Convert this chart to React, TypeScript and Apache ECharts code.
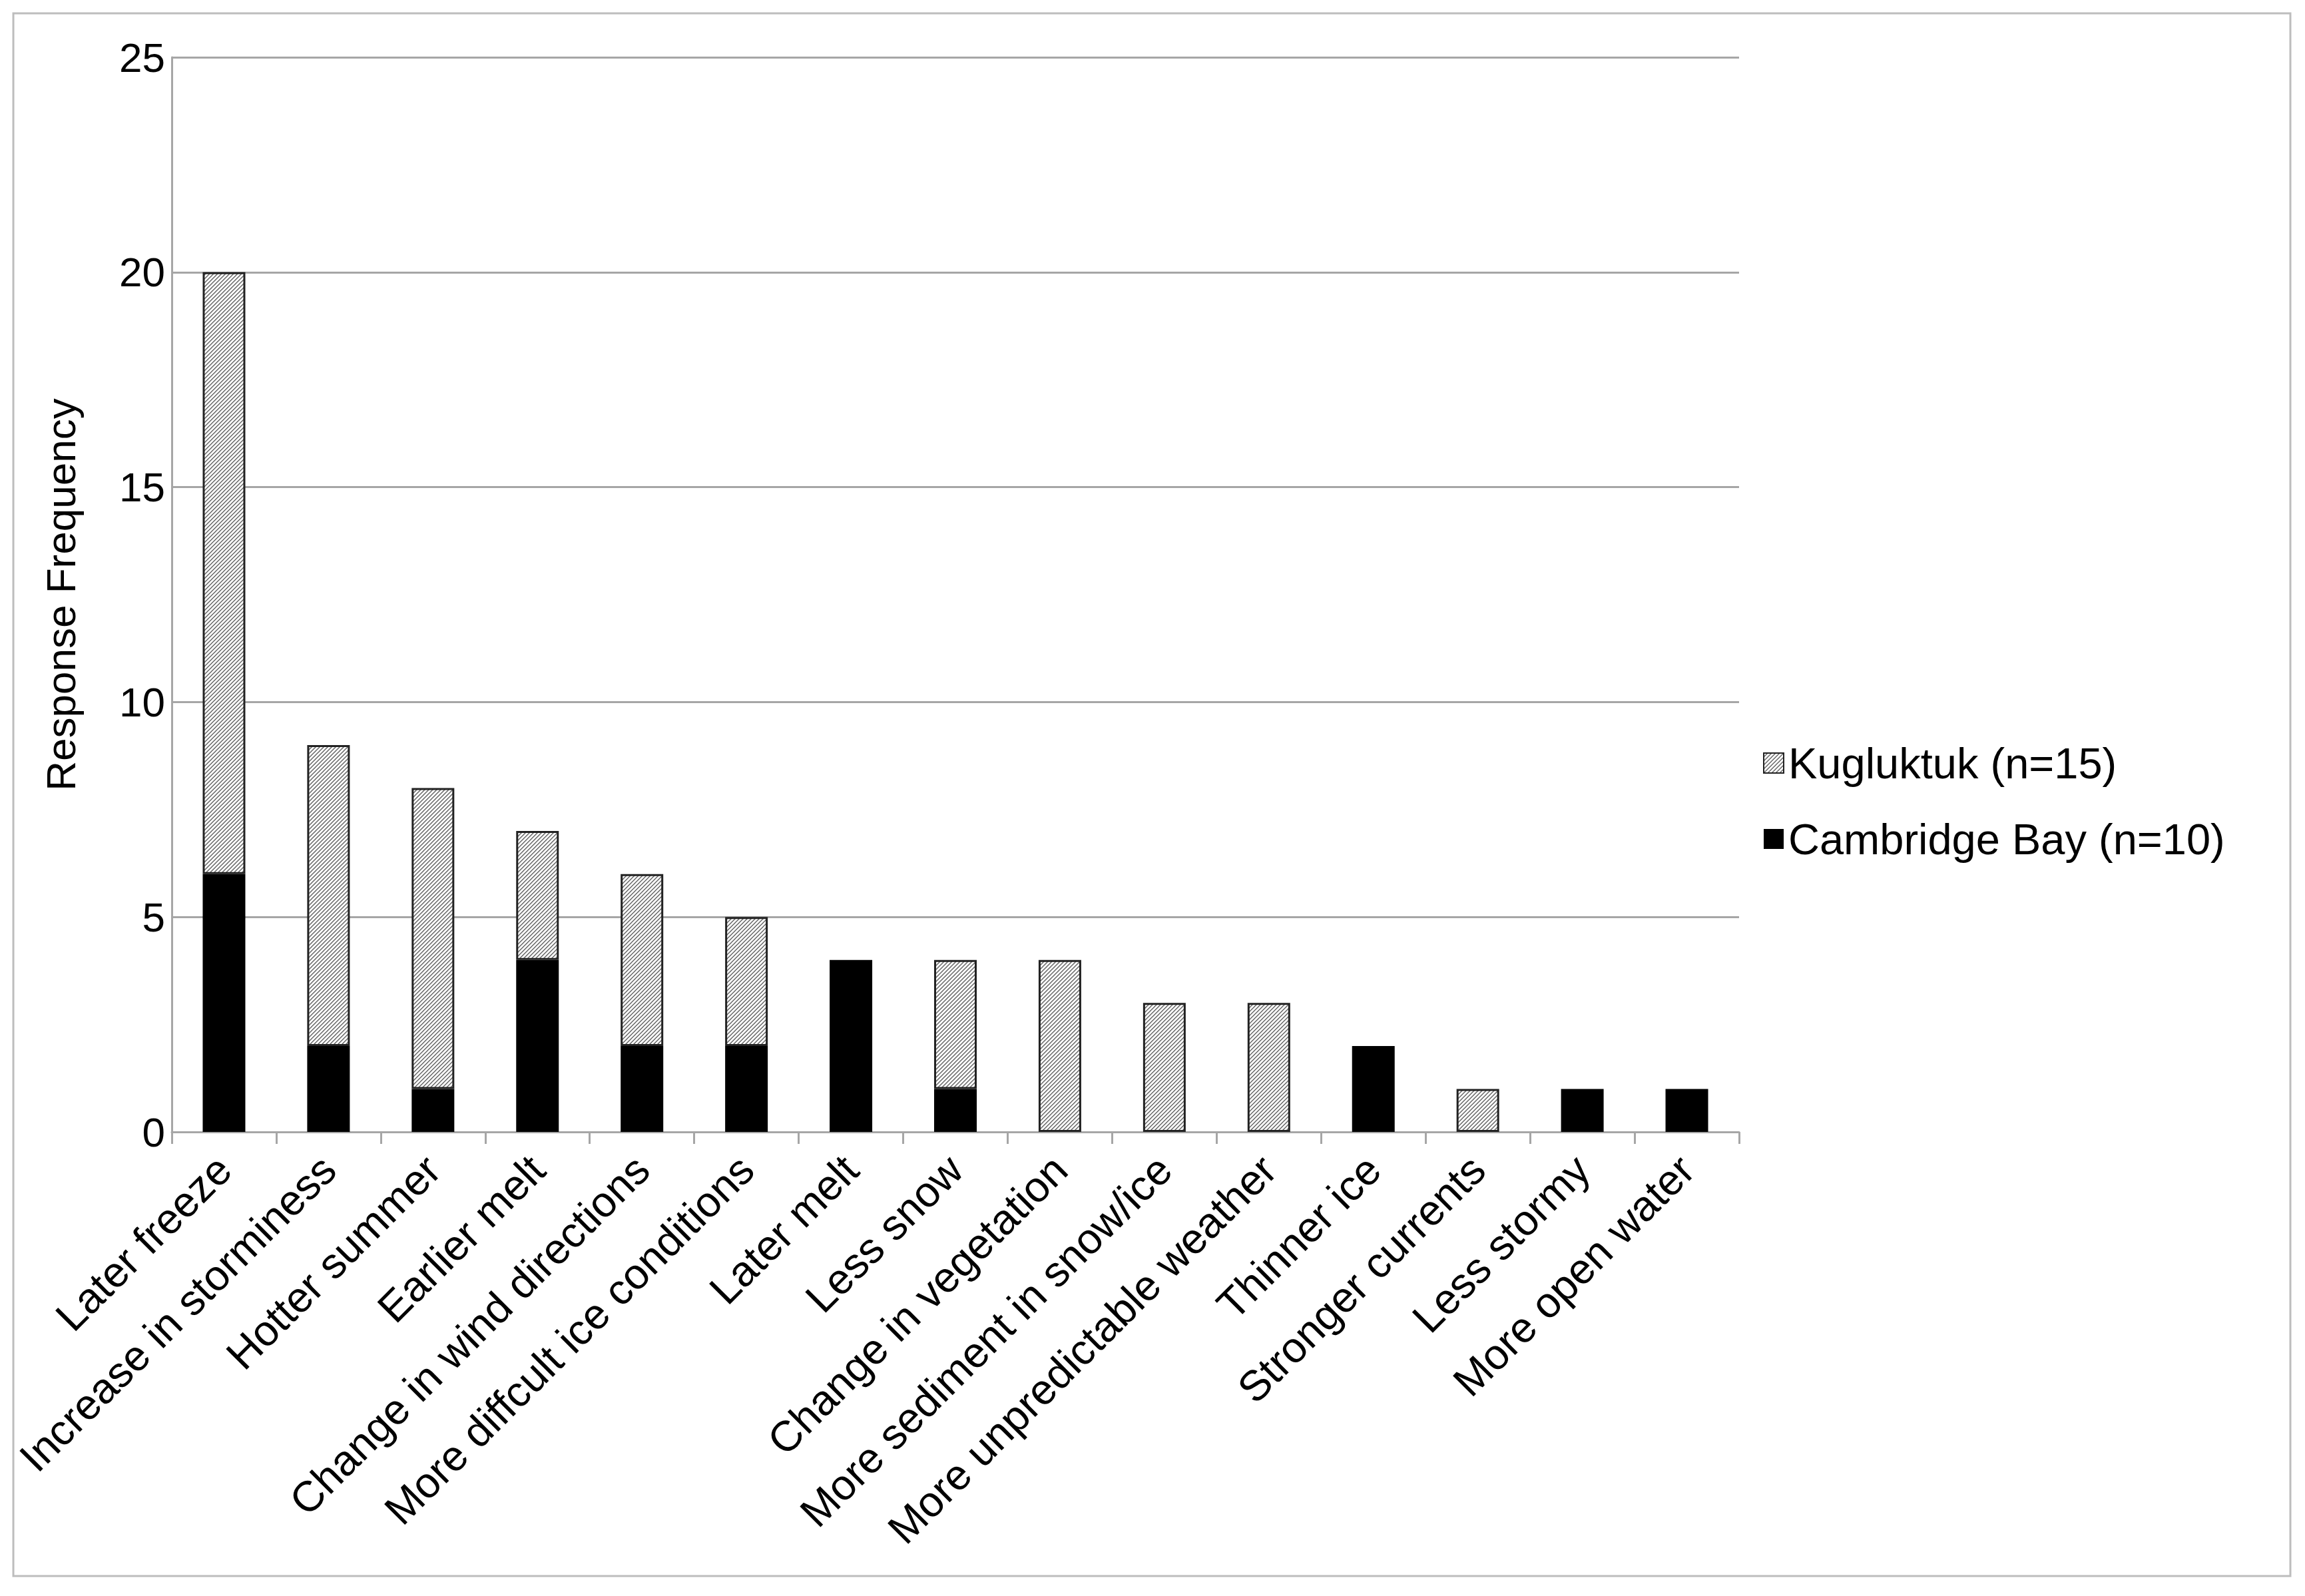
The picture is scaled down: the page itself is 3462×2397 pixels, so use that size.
import React, { useEffect, useRef } from "react";
import * as echarts from "echarts";

const categories = [
  "Later freeze",
  "Increase in storminess",
  "Hotter summer",
  "Earlier melt",
  "Change in wind directions",
  "More diffcult ice conditions",
  "Later melt",
  "Less snow",
  "Change in vegetation",
  "More sediment in snow/ice",
  "More unpredictable weather",
  "Thinner ice",
  "Stronger currents",
  "Less stormy",
  "More open water",
];
const cambridgeBay = [6, 2, 1, 4, 2, 2, 4, 1, 0, 0, 0, 2, 0, 1, 1];
const kugluktuk = [14, 7, 7, 3, 4, 3, 0, 3, 4, 3, 3, 0, 1, 0, 0];
const seriesNames = ["Kugluktuk (n=15)", "Cambridge Bay (n=10)"];
const yAxisTitle = "Response Frequency";
const yMin = 0;
const yMax = 25;
const yInterval = 5;

const FONT = "'Liberation Sans', Arial, Helvetica, sans-serif";

function makeHatch(): HTMLCanvasElement {
  const s = 6;
  const c = document.createElement("canvas");
  c.width = s;
  c.height = s;
  const ctx = c.getContext("2d")!;
  ctx.fillStyle = "#ffffff";
  ctx.fillRect(0, 0, s, s);
  ctx.strokeStyle = "#5a5a5a";
  ctx.lineWidth = 1.3;
  ctx.beginPath();
  ctx.moveTo(0, s);
  ctx.lineTo(s, 0);
  ctx.moveTo(-s / 2, s / 2);
  ctx.lineTo(s / 2, -s / 2);
  ctx.moveTo(s / 2, s * 1.5);
  ctx.lineTo(s * 1.5, s / 2);
  ctx.stroke();
  return c;
}

export default function App() {
  const ref = useRef<HTMLDivElement>(null);
  useEffect(() => {
    if (!ref.current) return;
    const chart = echarts.init(ref.current, undefined, { renderer: "svg" });
    const hatch = { image: makeHatch(), repeat: "repeat" as const };
    const zeroToNull = (v: number) => (v === 0 ? null : v);
    chart.setOption({
      animation: false,
      backgroundColor: "#ffffff",
      textStyle: { fontFamily: FONT, color: "#000" },
      graphic: [
        {
          type: "rect",
          shape: { x: 20, y: 20, width: 3420, height: 2347 },
          style: { fill: "none", stroke: "#bdbdbd", lineWidth: 3 },
          silent: true,
        },
      ],
      grid: { left: 258, right: 850, top: 86, bottom: 697, containLabel: false },
      legend: {
        orient: "vertical",
        left: 2643,
        top: 1108,
        data: [seriesNames[0], seriesNames[1]],
        itemWidth: 30,
        itemHeight: 30,
        itemGap: 48,
        icon: "rect",
        textStyle: { fontFamily: FONT, fontSize: 65, color: "#000", lineHeight: 66, padding: [0, 0, 0, 2] },
      },
      xAxis: {
        type: "category",
        data: categories,
        axisLine: { lineStyle: { color: "#a6a6a6", width: 3 } },
        axisTick: { show: true, length: 18, lineStyle: { color: "#a6a6a6", width: 3 } },
        axisLabel: {
          rotate: 45,
          interval: 0,
          margin: 46,
          fontSize: 64,
          fontFamily: FONT,
          color: "#000",
        },
      },
      yAxis: {
        type: "value",
        min: yMin,
        max: yMax,
        interval: yInterval,
        name: yAxisTitle,
        nameLocation: "middle",
        nameRotate: 90,
        nameGap: 136,
        nameTextStyle: { fontSize: 62, fontFamily: FONT, color: "#000" },
        axisLine: { show: true, lineStyle: { color: "#a6a6a6", width: 3 } },
        axisTick: { show: false },
        splitLine: { show: true, lineStyle: { color: "#a6a6a6", width: 3 } },
        axisLabel: { fontSize: 62, fontFamily: FONT, color: "#000", margin: 10 },
      },
      series: [
        {
          name: seriesNames[1],
          type: "bar",
          stack: "total",
          barWidth: 64,
          data: cambridgeBay.map(zeroToNull),
          itemStyle: { color: "#000000" },
        },
        {
          name: seriesNames[0],
          type: "bar",
          stack: "total",
          barWidth: 64,
          data: kugluktuk.map(zeroToNull),
          itemStyle: { color: hatch, borderColor: "#222", borderWidth: 3 },
        },
      ],
    });
    return () => chart.dispose();
  }, []);
  return (
    <div
      ref={ref}
      style={{ position: "fixed", left: 0, top: 0, width: 3462, height: 2397, background: "#fff" }}
    />
  );
}
